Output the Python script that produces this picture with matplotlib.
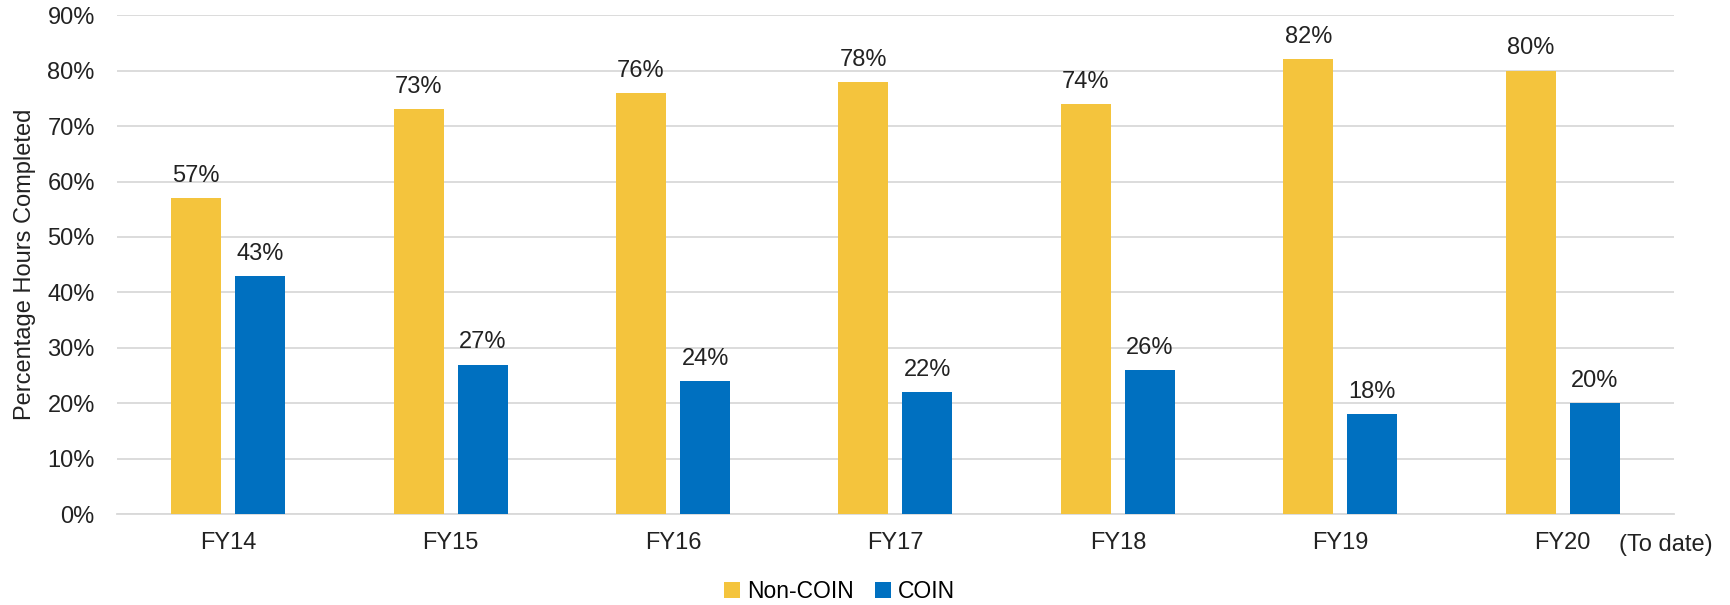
import matplotlib.pyplot as plt
import numpy as np

plt.rcParams['font.family'] = ['Liberation Sans', 'DejaVu Sans']

years = ["FY14", "FY15", "FY16", "FY17", "FY18", "FY19", "FY20"]
non_coin = [57, 73, 76, 78, 74, 82, 80]
coin = [43, 27, 24, 22, 26, 18, 20]

yellow = "#F4C43D"
blue = "#0070C0"

fig = plt.figure(figsize=(17.31, 6.05), dpi=100)
ax = fig.add_axes([0.0676, 0.150, 0.8994, 0.825])

x = np.arange(len(years))
w = 0.225
off = 0.144
b1 = ax.bar(x - off, non_coin, w, color=yellow, label="Non-COIN", zorder=3)
b2 = ax.bar(x + off, coin, w, color=blue, label="COIN", zorder=3)

# labels above bars
for bars, vals in [(b1, non_coin), (b2, coin)]:
    for r, v in zip(bars, vals):
        ax.annotate(f"{v}%", (r.get_x() + r.get_width() / 2, v),
                    xytext=(0, 8), textcoords="offset points",
                    ha="center", va="bottom", fontsize=17, color="#222222")

ax.set_xlim(-0.5, len(years) - 0.5)
ax.set_ylim(0, 90)
ax.set_yticks(range(0, 91, 10))
ax.set_yticklabels([f"{t}%" for t in range(0, 91, 10)])
ax.set_xticks(x)
ax.set_xticklabels(years)
ax.tick_params(axis="both", length=0, labelsize=17, colors="#222222")
ax.tick_params(axis="x", pad=13)
ax.tick_params(axis="y", pad=16)
ax.grid(axis="y", color="#D9D9D9", linewidth=1.3, zorder=0)
for s in ["top", "right", "left"]:
    ax.spines[s].set_visible(False)
ax.spines["bottom"].set_color("#D9D9D9")
ax.spines["bottom"].set_linewidth(1.3)

ax.set_ylabel("Percentage Hours Completed", fontsize=17, color="#222222", labelpad=8)

fig.text(0.9896, 0.099, "(To date)", ha="right", va="center", fontsize=17, color="#222222")

fig.legend(handles=[b1, b2], loc="center", bbox_to_anchor=(0.485, 0.022), ncol=2,
           frameon=False, fontsize=16.5, handlelength=0.7, handleheight=0.7,
           handletextpad=0.3, columnspacing=0.9)

fig.savefig("out.png", dpi=100)
